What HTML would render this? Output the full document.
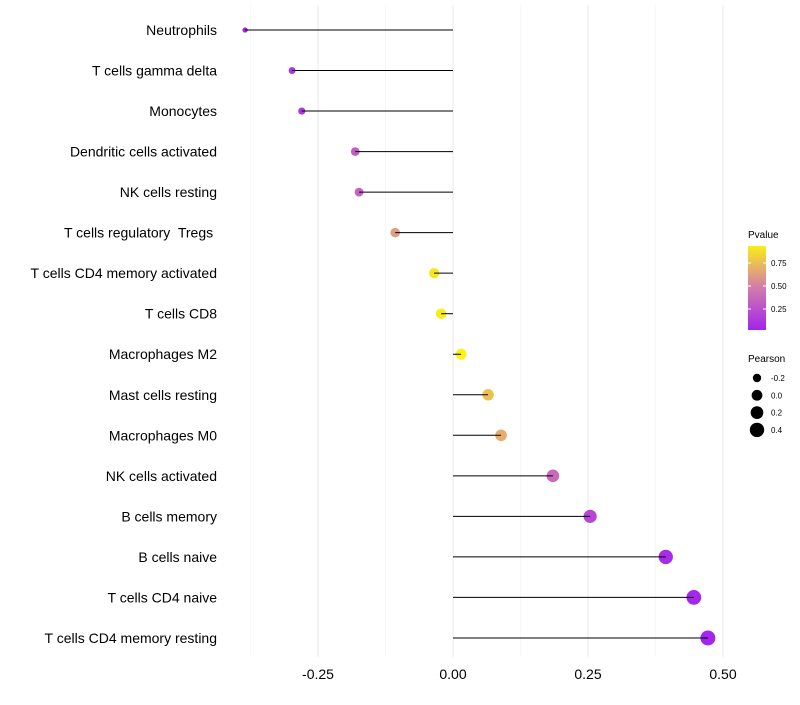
<!DOCTYPE html>
<html><head><meta charset="utf-8"><style>
body{margin:0;background:#fff;}
svg{font-family:"Liberation Sans",Arial,sans-serif;}
text{white-space:pre;}
</style></head><body>
<svg id="chart" width="800" height="700" xmlns="http://www.w3.org/2000/svg"></svg>
<script>
const categories=["Neutrophils","T cells gamma delta","Monocytes","Dendritic cells activated","NK cells resting","T cells regulatory  Tregs ","T cells CD4 memory activated","T cells CD8","Macrophages M2","Mast cells resting","Macrophages M0","NK cells activated","B cells memory","B cells naive","T cells CD4 naive","T cells CD4 memory resting"];
const pearson=[-0.385,-0.298,-0.280,-0.181,-0.174,-0.107,-0.035,-0.022,0.015,0.065,0.089,0.185,0.254,0.394,0.446,0.472];
const pvalues=[0.03,0.10,0.12,0.32,0.34,0.62,0.90,0.93,0.95,0.76,0.68,0.38,0.20,0.06,0.04,0.03];
const xTicks=[-0.25,0,0.25,0.5];
const xTickLabels=["-0.25","0.00","0.25","0.50"];
const pTicks=[0.25,0.5,0.75];
const sizeTicks=[-0.2,0,0.2,0.4];

const svg=document.getElementById('chart');
const NS="http://www.w3.org/2000/svg";
function mk(tag,attrs,parent){const e=document.createElementNS(NS,tag);for(const k in attrs)e.setAttribute(k,attrs[k]);(parent||svg).appendChild(e);return e;}
const x=v=>453+v*540;
const y=i=>30+i*40.53;
const rad=v=>Math.sqrt(Math.max(3,29+57*v));
function col(p){
  const stops=[[0,[160,32,240]],[0.5,[214,128,168]],[1,[255,255,0]]];
  let a=stops[0],b=stops[1];if(p>0.5){a=stops[1];b=stops[2];}
  const t=(p-a[0])/(b[0]-a[0]);
  const c=a[1].map((v,i)=>Math.round(v+(b[1][i]-v)*t));
  return `rgb(${c[0]},${c[1]},${c[2]})`;
}
const grid=mk('g',{});

[-0.375,-0.25,-0.125,0,0.125,0.25,0.375,0.5].forEach(v=>{
  const major=Math.abs(Math.round(v*8))%2===0;
  mk('line',{x1:x(v),x2:x(v),y1:5,y2:657,stroke:major?'#ebebeb':'#f2f2f2','stroke-width':major?1.1:0.6},grid);
});
xTicks.forEach((v,i)=>{
  const t=mk('text',{x:x(v),y:679,'text-anchor':'middle','font-size':14,fill:'#000'});
  t.textContent=xTickLabels[i];
  
  
});
categories.forEach((c,i)=>{
  const lab=mk('text',{x:217,y:y(i)+5,'text-anchor':'end','font-size':14,fill:'#000'});
  lab.textContent=c;
  
  
  const pt=mk('circle',{cx:x(pearson[i]),cy:y(i),r:rad(pearson[i]),fill:col(pvalues[i])});
  
  
  const ln=mk('line',{x1:x(0),x2:x(pearson[i]),y1:y(i),y2:y(i),stroke:'#000','stroke-width':1});
  
  
});
const lg=mk('g',{});

mk('text',{x:748,y:238,'font-size':10,fill:'#000'},lg).textContent='Pvalue';
const defs=mk('defs',{});
const gr=mk('linearGradient',{id:'pg',x1:0,y1:1,x2:0,y2:0},defs);
for(let k=0;k<=10;k++){mk('stop',{offset:k/10,'stop-color':col(0.02+0.91*k/10)},gr);}
mk('rect',{x:748,y:246,width:18,height:84,fill:'url(#pg)'},lg);
pTicks.forEach(p=>{
  const yy=332-p*92;
  mk('line',{x1:748,x2:751,y1:yy,y2:yy,stroke:'#fff'},lg);mk('line',{x1:763,x2:766,y1:yy,y2:yy,stroke:'#fff'},lg);
  mk('text',{x:771,y:yy+3,'font-size':8,fill:'#000'},lg).textContent=p.toFixed(2);
});
const sl=mk('g',{});

mk('text',{x:748,y:362,'font-size':10,fill:'#000'},sl).textContent='Pearson';
sizeTicks.forEach((v,i)=>{
  const yy=378+i*17.3;
  mk('circle',{cx:757,cy:yy,r:rad(v),fill:'#000'},sl);
  mk('text',{x:771,y:yy+3,'font-size':8,fill:'#000'},sl).textContent=v.toFixed(1);
});
</script>
</body></html>
